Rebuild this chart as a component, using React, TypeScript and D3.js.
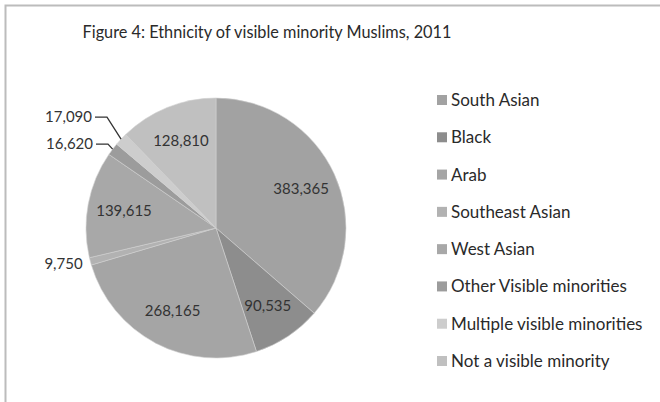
import * as d3 from "d3";

const categories = [
  "South Asian",
  "Black",
  "Arab",
  "Southeast Asian",
  "West Asian",
  "Other Visible minorities",
  "Multiple visible minorities",
  "Not a visible minority",
];
const values = [383365, 90535, 268165, 9750, 139615, 16620, 17090, 128810];
const colors = [
  "#a2a2a2",
  "#8d8d8d",
  "#a5a5a5",
  "#b2b2b2",
  "#a8a8a8",
  "#9c9c9c",
  "#cdcdcd",
  "#c0c0c0",
];
// labels drawn outside the pie with leader lines
const outside = ["Southeast Asian", "Other Visible minorities", "Multiple visible minorities"];

const W = 660;
const H = 402;
const font = "Lato, 'Open Sans', sans-serif";

export default function App() {
  const cx = 216;
  const cy = 228;
  const R = 130;

  const pie = d3.pie<number>().sort(null).value((d) => d);
  const arcs = pie(values);
  const arc = d3.arc<d3.PieArcDatum<number>>().innerRadius(0).outerRadius(R);
  const labelArc = d3.arc<d3.PieArcDatum<number>>().innerRadius(R * 0.72).outerRadius(R * 0.72);
  const fmt = d3.format(",");

  const legendY = d3
    .scalePoint<string>()
    .domain(categories)
    .range([100, 361]);

  return (
    <svg
      width={W}
      height={H}
      style={{ position: "absolute", left: 0, top: 0, background: "#fff" }}
    >
      <path d={`M5.5,${H} V5.5 H${W}`} fill="none" stroke="#bcbcbc" strokeWidth={2} />
      <text x={267} y={38} textAnchor="middle" fontFamily={font} fontSize={16.3} fill="#2a2a2a">
        Figure 4: Ethnicity of visible minority Muslims, 2011
      </text>

      <g transform={`translate(${cx},${cy})`}>
        {arcs.map((a, i) => (
          <path key={i} d={arc(a) ?? ""} fill={colors[i]} stroke="#d0d0d0" strokeWidth={0.6} />
        ))}
        {arcs.map((a, i) => {
          const name = categories[i];
          if (outside.includes(name)) {
            const mid = (a.startAngle + a.endAngle) / 2;
            const ex = Math.sin(mid) * R;
            const ey = -Math.cos(mid) * R;
            if (name === "Southeast Asian") {
              const lx = Math.sin(mid) * (R + 8);
              const ly = -Math.cos(mid) * (R + 8);
              return (
                <text key={i} x={lx} y={ly} textAnchor="end" dy="0.35em" fontFamily={font} fontSize={15} fill="#333">
                  {fmt(values[i])}
                </text>
              );
            }
            const ty = name === "Multiple visible minorities" ? ey - 22 : ey - 5;
            const kx = name === "Multiple visible minorities" ? -109 : -108;
            return (
              <g key={i}>
                <polyline
                  points={`${ex},${ey} ${kx},${ty} ${kx - 12},${ty}`}
                  fill="none"
                  stroke="#333"
                  strokeWidth={1.3}
                />
                <text x={kx - 15} y={ty} textAnchor="end" dy="0.35em" fontFamily={font} fontSize={15} fill="#333">
                  {fmt(values[i])}
                </text>
              </g>
            );
          }
          const [lx, ly] = labelArc.centroid(a);
          return (
            <text key={i} x={lx} y={ly} textAnchor="middle" dy="0.35em" fontFamily={font} fontSize={15} fill="#333">
              {fmt(values[i])}
            </text>
          );
        })}
      </g>

      <g>
        {categories.map((c, i) => (
          <g key={c} transform={`translate(437,${legendY(c)})`}>
            <rect x={0} y={-5} width={10} height={10} fill={colors[i]} />
            <text x={14} dy="0.35em" fontFamily={font} fontSize={17} fill="#2a2a2a">
              {c}
            </text>
          </g>
        ))}
      </g>
    </svg>
  );
}
